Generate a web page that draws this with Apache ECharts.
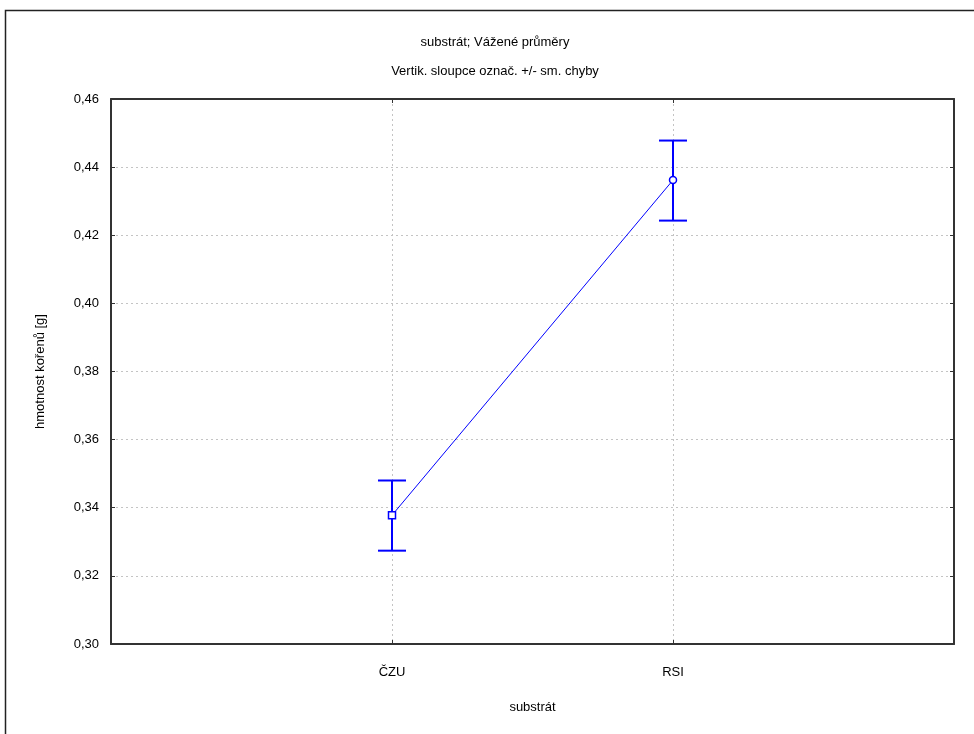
<!DOCTYPE html>
<html><head><meta charset="utf-8">
<script src="https://cdn.jsdelivr.net/npm/echarts@6/dist/echarts.min.js"></script>
<style>html,body{margin:0;padding:0;background:#fff}#c{width:974px;height:734px}</style>
</head><body><div id="c"></div>
<script>
const categories = ['', 'ČZU', 'RSI', ''];
const means = [null, 0.3378, 0.4362, null];
const lowErr = [null, 0.3274, 0.4243, null];
const highErr = [null, 0.3480, 0.4478, null];
const markerShapes = ['none', 'rect', 'circle', 'none'];

const chart = echarts.init(document.getElementById('c'), null, {renderer: 'canvas'});
const font = 'Liberation Sans, Arial, sans-serif';
const gridLine = {show: true, lineStyle: {color: '#c4c4c4', type: [2, 3], width: 1}};
const errData = categories.map((c, i) => means[i] == null ? null : [i, lowErr[i], highErr[i]]).filter(d => d);
const meanData = categories.map((c, i) => means[i] == null ? null :
  {value: means[i], symbol: markerShapes[i]});

chart.setOption({
  animation: false,
  backgroundColor: '#ffffff',
  title: [
    {text: 'substrát; Vážené průměry', left: 490, top: 31, textAlign: 'center',
     textStyle: {fontFamily: font, fontSize: 13, fontWeight: 'normal', color: '#000'}},
    {text: 'Vertik. sloupce označ. +/- sm. chyby', left: 490, top: 60, textAlign: 'center',
     textStyle: {fontFamily: font, fontSize: 13, fontWeight: 'normal', color: '#000'}}
  ],
  graphic: [{type: 'rect', shape: {x: 5.5, y: 10.5, width: 1000, height: 800},
    style: {fill: 'none', stroke: '#222', lineWidth: 1.5}, silent: true}],
  grid: {left: 111, right: 20, top: 99, bottom: 90, containLabel: false},
  xAxis: [{
    type: 'category', data: categories, boundaryGap: false,
    axisLine: {show: true, lineStyle: {color: '#333', width: 2}},
    axisTick: {show: true, inside: true, length: 4, lineStyle: {color: '#333'},
      interval: (i) => i === 1 || i === 2},
    axisLabel: {fontFamily: font, fontSize: 13, color: '#000', margin: 22, interval: 0},
    splitLine: {show: true, interval: (i) => i === 1 || i === 2, lineStyle: gridLine.lineStyle},
    name: 'substrát', nameLocation: 'middle', nameGap: 57,
    nameTextStyle: {fontFamily: font, fontSize: 13, color: '#000'}
  }, {
    type: 'category', data: categories, boundaryGap: false, position: 'top',
    axisLine: {show: true, lineStyle: {color: '#333', width: 2}},
    axisTick: {show: true, inside: true, length: 4, lineStyle: {color: '#333'},
      interval: (i) => i === 1 || i === 2},
    axisLabel: {show: false}, splitLine: {show: false}
  }],
  yAxis: [{
    type: 'value', min: 0.30, max: 0.46, interval: 0.02,
    axisLine: {show: true, lineStyle: {color: '#333', width: 2}},
    axisTick: {show: true, inside: true, length: 4, lineStyle: {color: '#333'}},
    axisLabel: {fontFamily: font, fontSize: 13, color: '#000', margin: 12,
      formatter: v => v.toFixed(2).replace('.', ',')},
    splitLine: gridLine,
    name: 'hmotnost kořenů [g]', nameLocation: 'middle', nameGap: 64, nameRotate: 90,
    nameTextStyle: {fontFamily: font, fontSize: 13, color: '#000'}
  }, {
    type: 'value', min: 0.30, max: 0.46, interval: 0.02, position: 'right',
    axisLine: {show: true, lineStyle: {color: '#333', width: 2}},
    axisTick: {show: true, inside: true, length: 4, lineStyle: {color: '#333'}},
    axisLabel: {show: false}, splitLine: {show: false}
  }],
  series: [{
    type: 'line', data: meanData, connectNulls: true,
    lineStyle: {color: '#0000ff', width: 1},
    symbolSize: 7, showSymbol: true,
    itemStyle: {color: '#ffffff', borderColor: '#0000ff', borderWidth: 1.5},
    z: 5
  }, {
    type: 'custom', data: errData, z: 4,
    renderItem: function (params, api) {
      const x = api.value(0);
      const lo = api.coord([x, api.value(1)]);
      const hi = api.coord([x, api.value(2)]);
      const hw = 14;
      const st = {stroke: '#0000ff', lineWidth: 2};
      return {type: 'group', children: [
        {type: 'line', shape: {x1: lo[0], y1: lo[1], x2: hi[0], y2: hi[1]}, style: st},
        {type: 'line', shape: {x1: lo[0] - hw, y1: lo[1], x2: lo[0] + hw, y2: lo[1]}, style: st},
        {type: 'line', shape: {x1: hi[0] - hw, y1: hi[1], x2: hi[0] + hw, y2: hi[1]}, style: st}
      ]};
    }
  }]
});
</script></body></html>
